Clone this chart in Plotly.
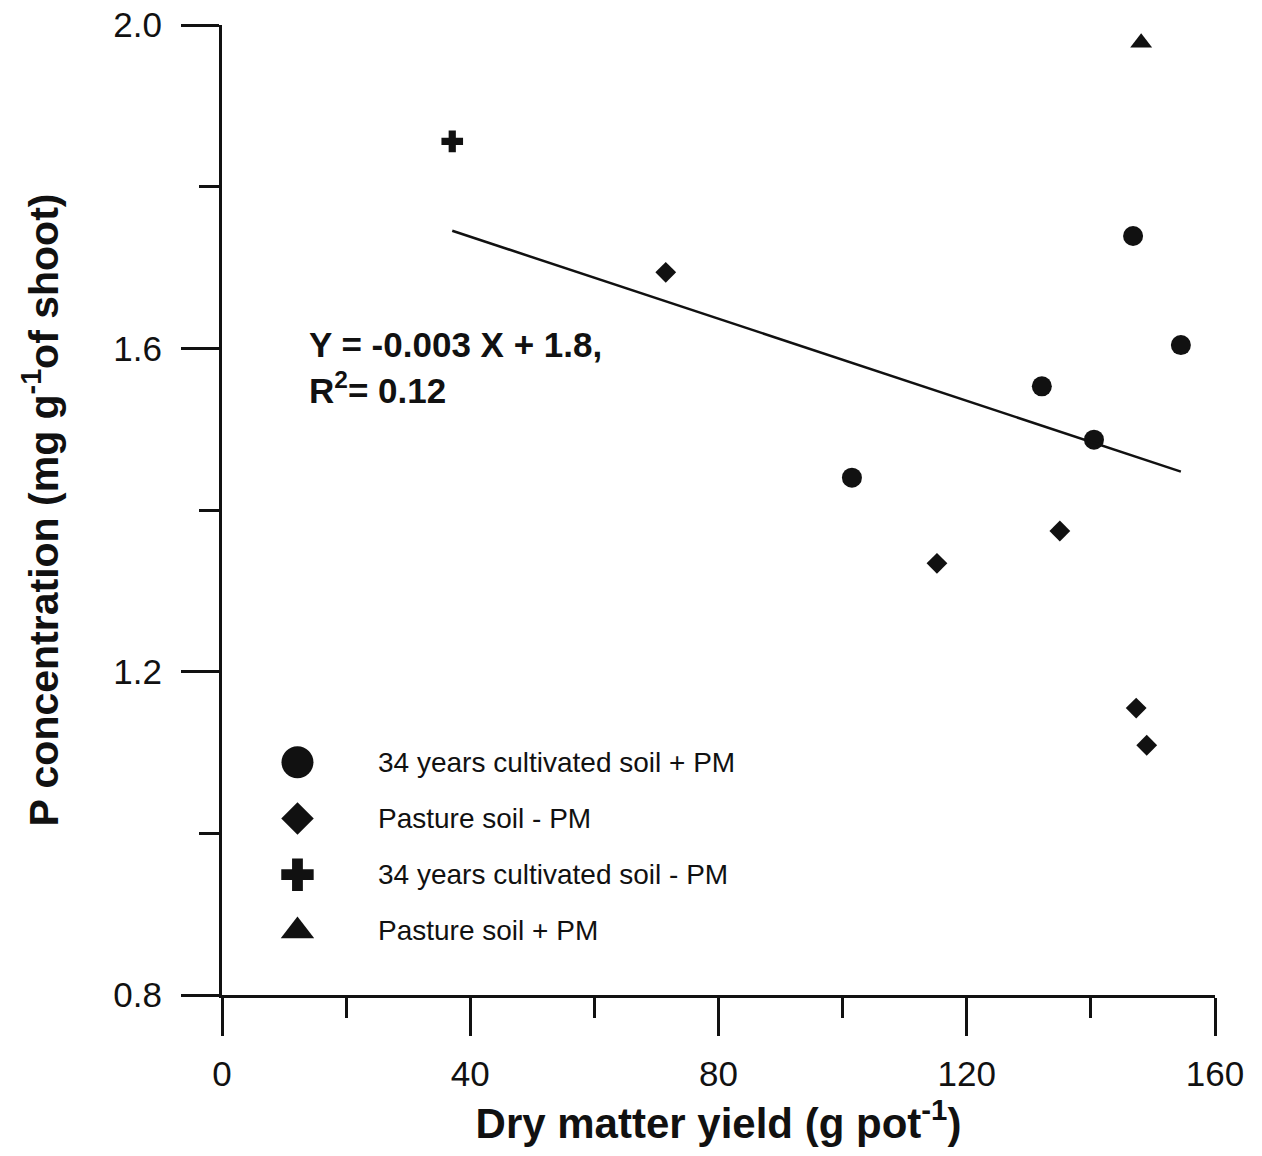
import numpy as np
import plotly.graph_objects as go

# Dry matter yield (g pot-1) and P concentration (mg g-1) per treatment
cult_plus_x = [101.5, 132.1, 140.5, 146.8, 154.5]
cult_plus_y = [1.440, 1.553, 1.487, 1.739, 1.604]

past_minus_x = [71.5, 115.2, 135.0, 147.3, 149.0]
past_minus_y = [1.694, 1.334, 1.374, 1.155, 1.109]

cult_minus_x = [37.1]
cult_minus_y = [1.856]

past_plus_x = [148.1]
past_plus_y = [1.978]

series_names = [
    "34 years cultivated soil + PM",
    "Pasture soil - PM",
    "34 years cultivated soil - PM",
    "Pasture soil + PM",
]

x_ticks = [0, 40, 80, 120, 160]
y_ticks = [0.8, 1.2, 1.6, 2.0]

FONT = "Liberation Sans, Arial, sans-serif"
INK = "#111111"

fig = go.Figure()

groups = [
    (cult_plus_x, cult_plus_y, "circle", 20),
    (past_minus_x, past_minus_y, "diamond", 16),
    (cult_minus_x, cult_minus_y, "cross", 18),
    (past_plus_x, past_plus_y, "triangle-up", 19),
]
for (gx, gy, sym, sz), name in zip(groups, series_names):
    fig.add_trace(go.Scatter(
        x=gx, y=gy, mode="markers", name=name, showlegend=False,
        marker=dict(symbol=sym, size=sz, color=INK, opacity=1, line=dict(width=0)),
    ))

# Least-squares line through all observations
all_x = np.array(cult_plus_x + past_minus_x + cult_minus_x + past_plus_x)
all_y = np.array(cult_plus_y + past_minus_y + cult_minus_y + past_plus_y)
slope, intercept = np.polyfit(all_x, all_y, 1)
fit_x = np.array([all_x.min(), all_x.max()])
fig.add_trace(go.Scatter(
    x=fit_x, y=slope * fit_x + intercept, mode="lines", showlegend=False,
    line=dict(color=INK, width=2.5),
))

# Key drawn on an overlay axis spanning the plot area (0..1 each way)
key_sizes = [32, 25, 27, 29]
key_syms = ["circle", "diamond", "cross", "triangle-up"]
key_rows = [0.240, 0.182, 0.124, 0.066]
key_col = 0.076
for sym, sz, ry in zip(key_syms, key_sizes, key_rows):
    fig.add_trace(go.Scatter(
        x=[key_col], y=[ry], mode="markers", showlegend=False,
        xaxis="x2", yaxis="y2",
        marker=dict(symbol=sym, size=sz, color=INK, opacity=1, line=dict(width=0)),
    ))
for name, ry in zip(series_names, key_rows):
    fig.add_annotation(
        x=0.155, y=ry, xref="x2", yref="y2", text=name, showarrow=False,
        xanchor="left", yanchor="middle",
        font=dict(family=FONT, size=28, color=INK),
    )

fig.add_annotation(
    x=0.086, y=1.576, xref="paper", yref="y",
    text="<b>Y = -0.003 X + 1.8,<br>R<sup>2</sup>= 0.12</b>",
    showarrow=False, xanchor="left", yanchor="middle", align="left",
    font=dict(family=FONT, size=35, color=INK),
)

axis_common = dict(
    showline=True, linecolor=INK, linewidth=3, mirror=False,
    showgrid=False, zeroline=False, automargin=False,
    ticks="outside", ticklen=38, tickwidth=3, tickcolor=INK,
    tickfont=dict(family=FONT, size=35, color=INK),
)

fig.update_layout(
    width=1262, height=1156,
    margin=dict(l=222, r=47, t=25, b=161),
    paper_bgcolor="white", plot_bgcolor="white",
    xaxis=dict(
        range=[0, 160], tickvals=x_ticks, ticktext=[str(v) for v in x_ticks],
        minor=dict(dtick=20, tick0=0, ticks="outside", ticklen=20, tickwidth=3, tickcolor=INK),
        title=dict(text="<b>Dry matter yield (g pot<sup>-1</sup>)</b>",
                   font=dict(family=FONT, size=42, color=INK), standoff=8),
        ticklabelstandoff=8,
        **axis_common,
    ),
    yaxis=dict(
        range=[0.8, 2.0], tickvals=y_ticks, ticktext=[f"{v:.1f}" for v in y_ticks],
        minor=dict(dtick=0.2, tick0=0.8, ticks="outside", ticklen=20, tickwidth=3, tickcolor=INK),
        title=dict(text="<b>P concentration (mg g<sup>-1</sup>of shoot)</b>",
                   font=dict(family=FONT, size=41, color=INK), standoff=42),
        ticklabelstandoff=12,
        **axis_common,
    ),
    xaxis2=dict(range=[0, 1], overlaying="x", visible=False, fixedrange=True),
    yaxis2=dict(range=[0, 1], overlaying="y", visible=False, fixedrange=True),
)

fig.write_html("out.html")
